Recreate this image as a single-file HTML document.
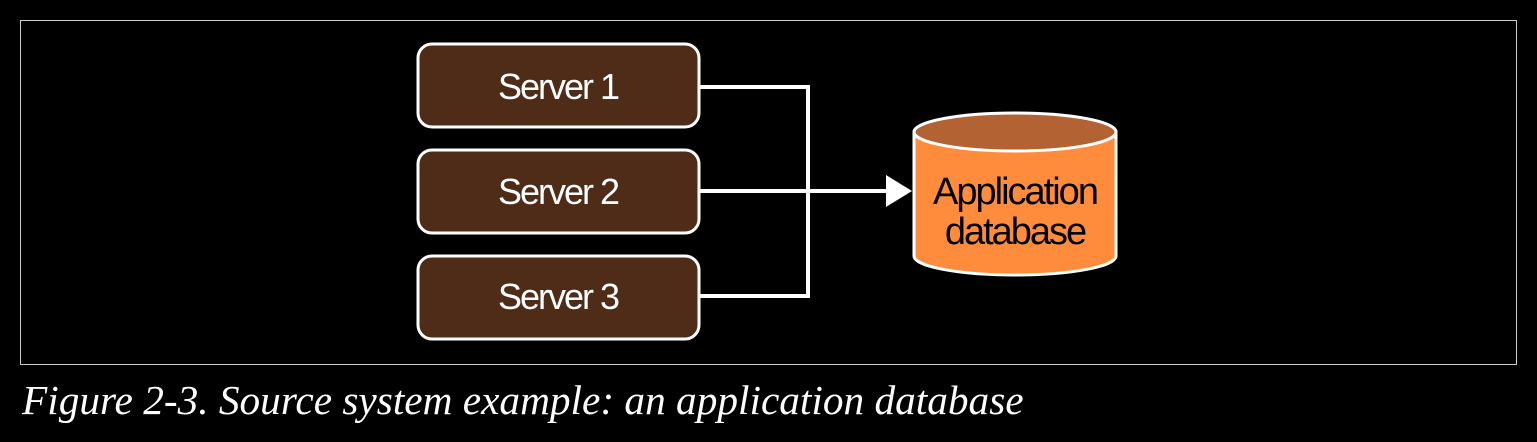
<!DOCTYPE html>
<html><head><style>
body{margin:0;background:#000;width:1537px;height:442px;overflow:hidden;position:relative;font-family:"Liberation Sans",sans-serif}
.cap{position:absolute;left:22px;top:376px;color:#fff;font-family:"Liberation Serif",serif;font-style:italic;font-size:41.3px;white-space:nowrap}
</style></head><body>
<svg width="1537" height="442" style="position:absolute;left:0;top:0">
<rect x="20.5" y="20.5" width="1496" height="344" fill="none" stroke="#ccc" stroke-width="1"/>
<g fill="#4f2c17" stroke="#fff" stroke-width="3">
<rect x="418" y="44" width="281" height="83" rx="14"/>
<rect x="418" y="150" width="281" height="83" rx="14"/>
<rect x="418" y="256" width="281" height="83" rx="14"/>
</g>
<g font-family="Liberation Sans, sans-serif" font-size="36" fill="#fff" text-anchor="middle" letter-spacing="-2">
<text x="558" y="99">Server 1</text>
<text x="558" y="204">Server 2</text>
<text x="558" y="309">Server 3</text>
</g>
<g stroke="#fff" stroke-width="4" fill="none">
<polyline points="699,87 808,87 808,296 699,296"/>
<line x1="699" y1="191" x2="888" y2="191"/>
</g>
<polygon points="886,175 912,191 886,207" fill="#fff"/>
<path d="M914,132 L914,256 A101,19 0 0 0 1116,256 L1116,132 Z" fill="#ff8c3c" stroke="#fff" stroke-width="3"/>
<ellipse cx="1015" cy="132" rx="101" ry="19" fill="#b36333" stroke="#fff" stroke-width="3"/>
<g font-family="Liberation Sans, sans-serif" font-size="38" fill="#000" text-anchor="middle" letter-spacing="-2">
<text x="1015" y="204">Application</text>
<text x="1015" y="244">database</text>
</g>
</svg>
<div class="cap">Figure 2-3. Source system example: an application database</div>
</body></html>
